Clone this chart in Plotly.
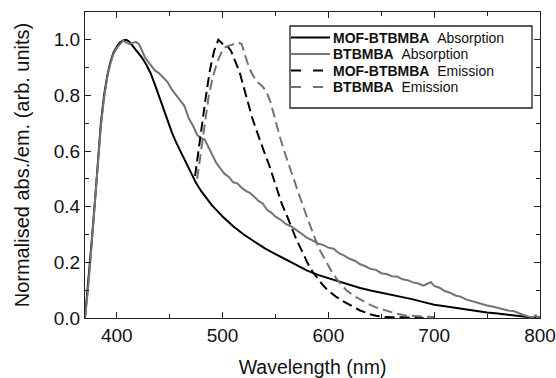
import plotly.graph_objects as go

# MOF-BTBMBA absorption
mof_abs_x = [370, 373, 376, 379, 382, 385, 388, 391, 394, 397, 400, 403, 406, 409, 412, 416, 420, 424, 428, 432,
             436, 440, 444, 448, 452, 456, 460, 465, 470, 475, 480, 485, 490, 495, 500, 510, 520, 530, 540, 550,
             560, 570, 580, 590, 600, 610, 620, 630, 640, 650, 660, 670, 680, 690, 700, 710, 720, 730, 740, 750,
             760, 770, 780, 790, 800]
mof_abs_y = [0.0, 0.12, 0.26, 0.40, 0.55, 0.70, 0.80, 0.87, 0.92, 0.955, 0.975, 0.99, 0.998, 1.0, 0.993, 0.975, 0.955, 0.935, 0.91, 0.88,
             0.84, 0.795, 0.75, 0.707, 0.668, 0.632, 0.60, 0.56, 0.52, 0.485, 0.455, 0.43, 0.405, 0.385, 0.365, 0.33, 0.30, 0.275, 0.25, 0.23,
             0.21, 0.19, 0.17, 0.155, 0.143, 0.13, 0.119, 0.108, 0.099, 0.091, 0.084, 0.076, 0.067, 0.057, 0.048, 0.042, 0.036, 0.030, 0.025, 0.020,
             0.016, 0.011, 0.007, 0.003, 0.0]

# BTBMBA absorption
btb_abs_x = [370, 373, 376, 379, 382, 385, 388, 391, 394, 397, 400, 403, 406, 409, 412, 415, 418, 421, 424, 427,
             430, 433, 436, 440, 444, 448, 452, 456, 460, 464, 468, 472, 476, 480, 483, 486, 490, 494, 498, 502,
             506, 510, 514, 518, 522, 526, 530, 534, 538, 542, 546, 550, 555, 560, 565, 570, 575, 580, 585, 590,
             595, 600, 605, 610, 615, 620, 625, 630, 635, 640, 645, 650, 655, 660, 665, 670, 675, 680, 685, 690,
             694, 697, 700, 705, 710, 715, 720, 725, 730, 735, 740, 745, 750, 755, 760, 765, 770, 775, 780, 785,
             790, 793, 796, 798, 800]
btb_abs_y = [0.0, 0.11, 0.25, 0.39, 0.54, 0.69, 0.79, 0.865, 0.915, 0.95, 0.97, 0.985, 0.997, 0.99, 0.985, 0.99, 0.992, 0.985, 0.96, 0.935,
             0.92, 0.905, 0.89, 0.88, 0.862, 0.848, 0.822, 0.803, 0.783, 0.762, 0.718, 0.692, 0.658, 0.645, 0.642, 0.618, 0.587, 0.558, 0.537, 0.518,
             0.507, 0.488, 0.484, 0.468, 0.457, 0.449, 0.436, 0.421, 0.412, 0.389, 0.379, 0.364, 0.353, 0.337, 0.329, 0.316, 0.302, 0.288, 0.279, 0.268,
             0.263, 0.253, 0.249, 0.233, 0.224, 0.213, 0.206, 0.193, 0.186, 0.176, 0.173, 0.161, 0.158, 0.150, 0.149, 0.139, 0.136, 0.128, 0.124, 0.116,
             0.124, 0.129, 0.115, 0.109, 0.097, 0.091, 0.081, 0.077, 0.067, 0.061, 0.055, 0.051, 0.045, 0.041, 0.036, 0.033, 0.027, 0.025, 0.017, 0.010,
             0.004, 0.0, 0.010, 0.0, 0.006]

# MOF-BTBMBA emission
mof_em_x = [474, 477, 480, 484, 488, 492, 496, 499, 502, 505, 508, 512, 516, 520, 524, 528, 532, 536, 540, 544,
            548, 552, 556, 560, 565, 570, 576, 580, 585, 590, 595, 600, 607, 615, 623, 630, 639, 645, 652, 660,
            670, 680, 690]
mof_em_y = [0.51, 0.60, 0.675, 0.79, 0.89, 0.96, 1.0, 0.99, 0.975, 0.975, 0.96, 0.925, 0.885, 0.83, 0.77, 0.72, 0.675, 0.63, 0.59, 0.55,
            0.505, 0.46, 0.41, 0.375, 0.328, 0.28, 0.233, 0.20, 0.167, 0.14, 0.117, 0.098, 0.077, 0.058, 0.042, 0.027, 0.014, 0.008, 0.004, 0.003,
            0.002, 0.001, 0.0]

# BTBMBA emission
btb_em_x = [476, 479, 483, 487, 491, 495, 499, 503, 507, 511, 515, 518, 521, 525, 529, 533, 537, 541, 545, 549,
            552, 555, 560, 566, 573, 580, 584, 587, 591, 595, 600, 604, 610, 617, 624, 630, 638, 645, 655, 664,
            672, 680, 690, 700]
btb_em_y = [0.50, 0.58, 0.70, 0.80, 0.87, 0.92, 0.955, 0.975, 0.98, 0.985, 0.99, 0.985, 0.95, 0.90, 0.87, 0.848, 0.835, 0.818, 0.78, 0.72,
            0.68, 0.64, 0.58, 0.51, 0.436, 0.36, 0.316, 0.29, 0.25, 0.221, 0.19, 0.161, 0.13, 0.10, 0.08, 0.066, 0.05, 0.038, 0.025, 0.016,
            0.010, 0.007, 0.005, 0.004]

x_ticks = [400, 500, 600, 700, 800]
y_ticks = [0.0, 0.2, 0.4, 0.6, 0.8, 1.0]

legend_bold = ["MOF-BTBMBA", "BTBMBA", "MOF-BTBMBA", "BTBMBA"]
legend_rest = ["Absorption", "Absorption", "Emission", "Emission"]

BLACK = "#000000"
GREY = "#737373"
FONT = "Liberation Sans, Arial, sans-serif"
W, H = 556, 378
ML, MR, MT, MB = 85, 16, 12, 60
PW, PH = W - ML - MR, H - MT - MB


def px(x):
    return (x - ML) / PW


def py(y):
    return 1 - (y - MT) / PH


series = [
    (mof_abs_x, mof_abs_y, BLACK, "solid"),
    (btb_abs_x, btb_abs_y, GREY, "solid"),
    (mof_em_x, mof_em_y, BLACK, "10px,5px"),
    (btb_em_x, btb_em_y, GREY, "10px,5px"),
]

fig = go.Figure()
for (xs, ys, col, dash), b, r in zip(series, legend_bold, legend_rest):
    fig.add_trace(go.Scatter(x=xs, y=ys, mode="lines", name=f"{b} {r}",
                             line=dict(color=col, width=2, dash=dash), showlegend=False))

axis_common = dict(showline=True, linecolor="#222", linewidth=1.3, mirror="allticks",
                   ticks="inside", ticklen=6, tickwidth=1.2, tickcolor="#222",
                   showgrid=False, zeroline=False, automargin=False,
                   tickfont=dict(family=FONT, size=19, color="#111"))

fig.update_xaxes(range=[370, 800], tickvals=x_ticks,
                 minor=dict(ticks="inside", ticklen=3.5, tickwidth=1, tickcolor="#222", dtick=50, tick0=400),
                 title=dict(text="Wavelength (nm)", font=dict(family=FONT, size=19.5, color="#111"), standoff=16),
                 **axis_common)
fig.update_yaxes(range=[0, 1.1], tickvals=y_ticks, tickformat=".1f",
                 minor=dict(ticks="inside", ticklen=3.5, tickwidth=1, tickcolor="#222", dtick=0.1, tick0=0),
                 title=dict(text="Normalised abs./em. (arb. units)", font=dict(family=FONT, size=20, color="#111"), standoff=18),
                 **axis_common)

# manual legend (box, line samples, labels)
shapes = [dict(type="rect", xref="paper", yref="paper", x0=px(290), x1=px(532), y0=py(108), y1=py(26),
               line=dict(color="#222", width=1.3), fillcolor="white", layer="above")]
annotations = []
row_y = [37.5, 54, 70.5, 87]
for (xs, ys, col, dash), b, r, ry in zip(series, legend_bold, legend_rest, row_y):
    shapes.append(dict(type="line", xref="paper", yref="paper", x0=px(291), x1=px(330), y0=py(ry), y1=py(ry),
                       line=dict(color=col, width=2, dash="solid" if dash == "solid" else "10px,12px"), layer="above"))
    annotations.append(dict(xref="paper", yref="paper", x=px(331), y=py(ry), xanchor="left", yanchor="middle",
                            text=f"<b>{b}</b>\u00a0\u00a0{r}", showarrow=False,
                            font=dict(family=FONT, size=14, color="#111")))

fig.update_layout(
    width=W, height=H,
    margin=dict(l=ML, r=MR, t=MT, b=MB),
    paper_bgcolor="white", plot_bgcolor="white",
    showlegend=False,
    shapes=shapes, annotations=annotations,
)

fig.write_html("out.html")
